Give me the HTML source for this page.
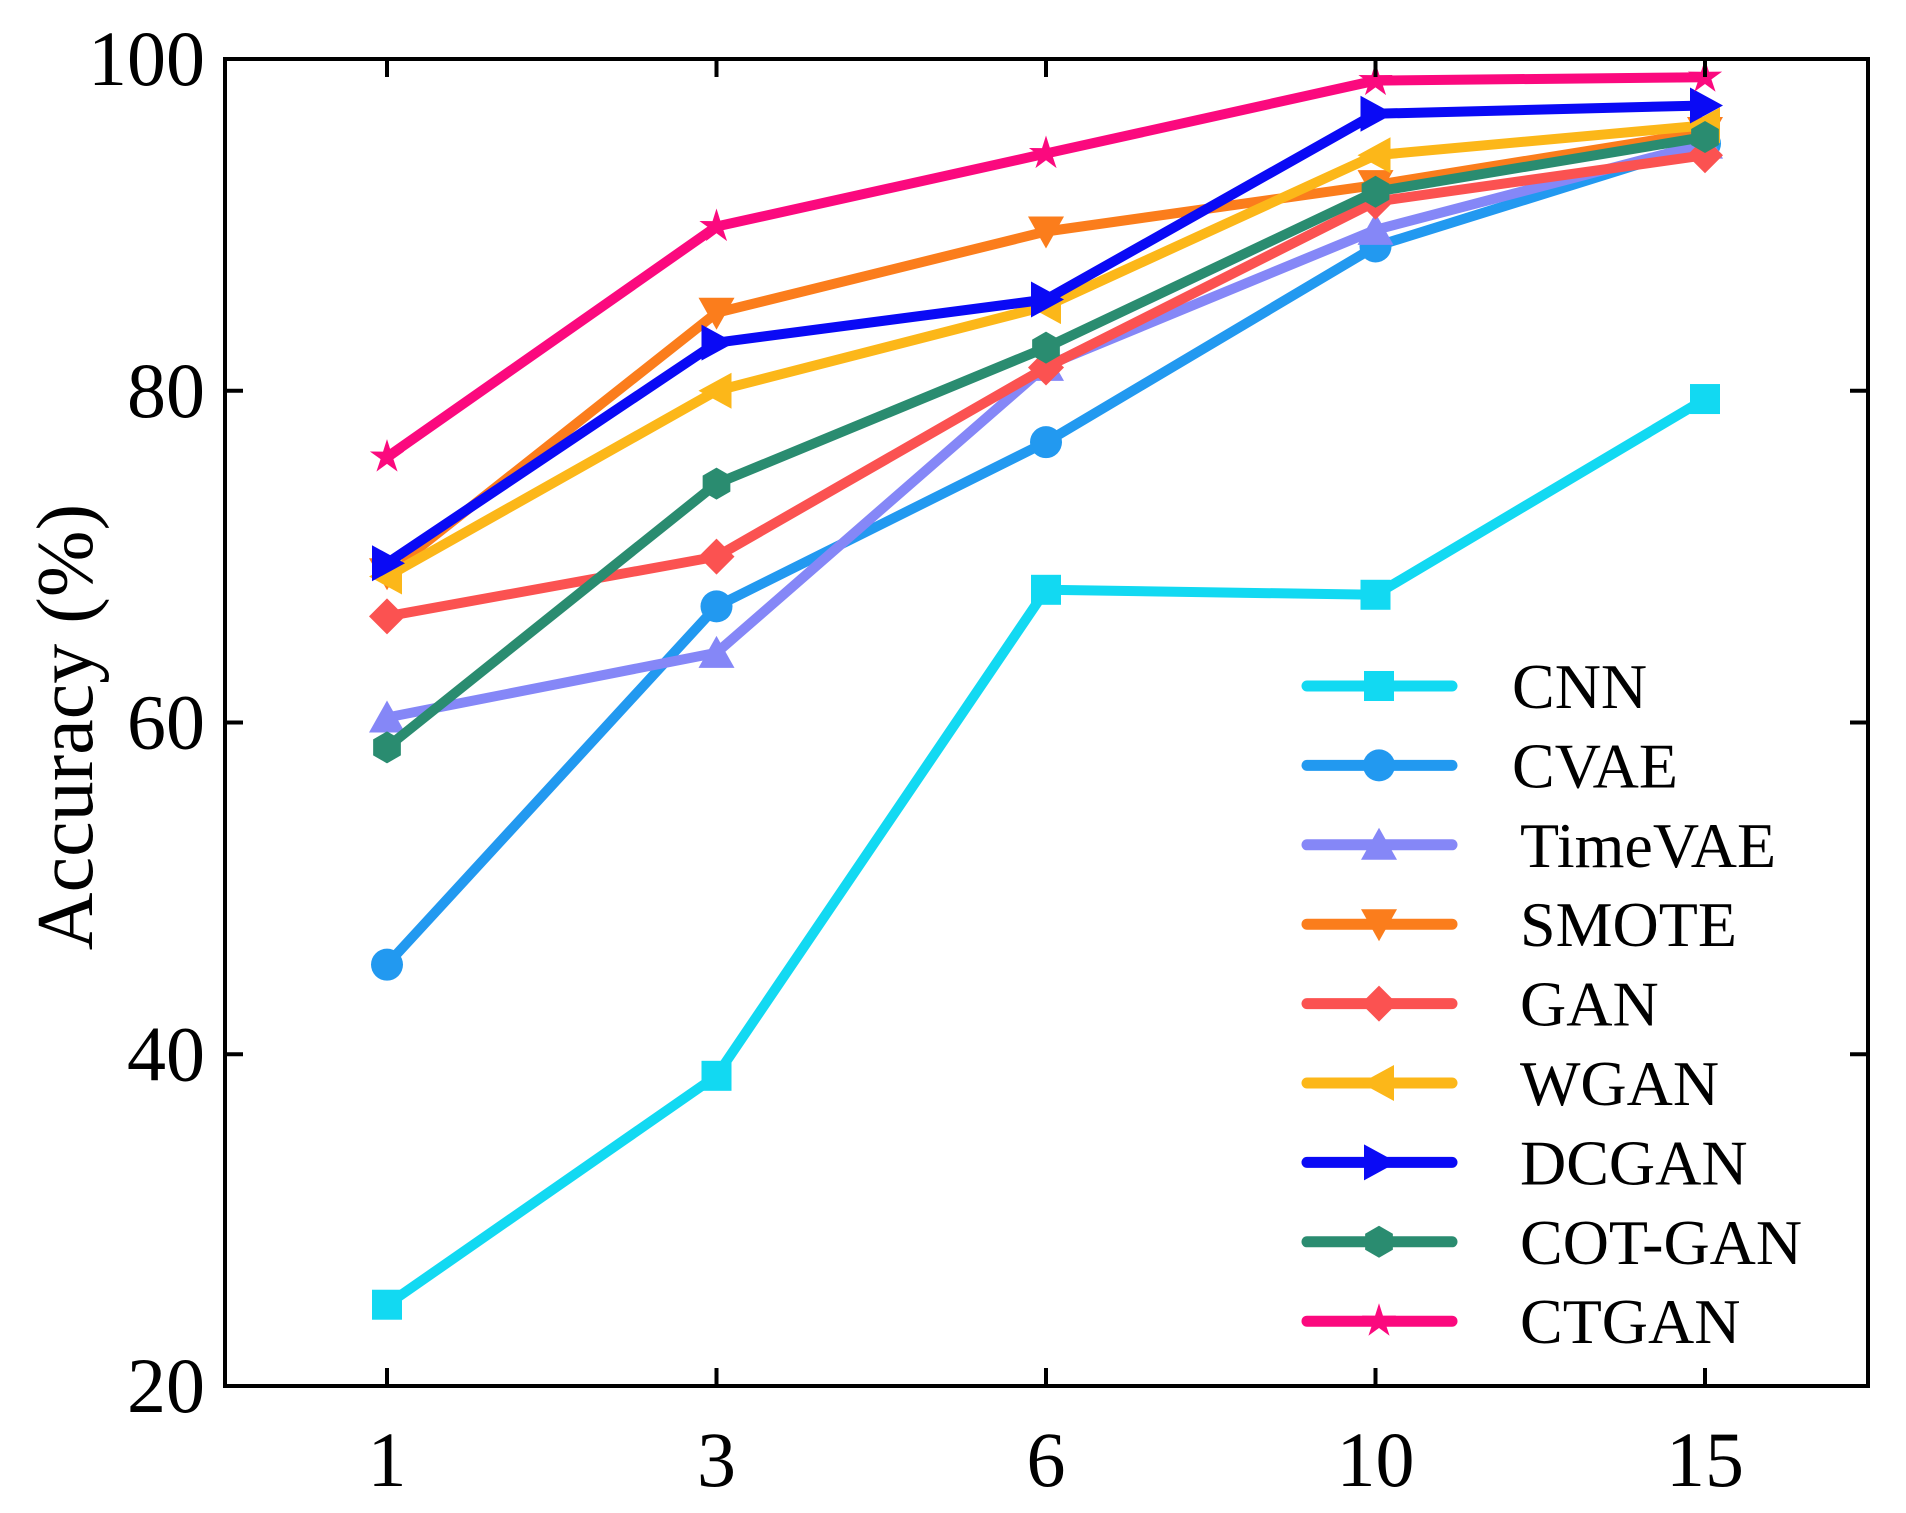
<!DOCTYPE html>
<html><head><meta charset="utf-8"><style>
html,body{margin:0;padding:0;background:#fff;}
svg{display:block;font-family:"Liberation Serif",serif;}
</style></head><body>
<svg id="chart" width="1906" height="1513" viewBox="0 0 1906 1513" xmlns="http://www.w3.org/2000/svg">
<rect x="0" y="0" width="1906" height="1513" fill="#fff"/>
<g id="series"></g>
<rect x="225" y="59" width="1643" height="1327" fill="none" stroke="#000" stroke-width="4"/>
<g id="axes"></g>
<text transform="translate(92,727) rotate(-90)" text-anchor="middle" font-size="80">Accuracy (%)</text>
<g id="legend"></g>
</svg>
<script>
const categories = ["1","3","6","10","15"];
const yTicks = [20,40,60,80,100];
const seriesNames = ["CNN","CVAE","TimeVAE","SMOTE","GAN","WGAN","DCGAN","COT-GAN","CTGAN"];
const cnnValues = [24.9,38.7,68.0,67.7,79.5];
const cvaeValues = [45.4,67.0,76.9,88.7,94.9];
const timevaeValues = [60.3,64.2,81.5,89.7,94.9];
const smoteValues = [69.0,84.7,89.6,92.4,95.6];
const ganValues = [66.4,70.0,81.4,91.4,94.2];
const wganValues = [68.8,80.0,85.1,94.2,96.0];
const dcganValues = [69.6,82.9,85.5,96.7,97.2];
const cotganValues = [58.5,74.4,82.6,92.0,95.3];
const ctganValues = [76.0,89.9,94.3,98.7,98.9];
const colors = ["#12d9f2","#2299f0","#8587f7","#fb7d1c","#fb5251","#fcb719","#0a0af5","#2a8c70","#fb097e"];
const markers = ["square","circle","triangle","tridown","diamond","left","right","hexagon","star"];
const allValues = [cnnValues,cvaeValues,timevaeValues,smoteValues,ganValues,wganValues,dcganValues,cotganValues,ctganValues];

const NS = "http://www.w3.org/2000/svg";
const X0 = 387, DX = 329.5, Ytop = 59, Ybot = 1386;
function xPos(i){ return X0 + i*DX; }
function yPos(v){ return Ybot - (v-20)/80*(Ybot-Ytop); }
function mk(tag, attrs){ const e=document.createElementNS(NS,tag); for(const k in attrs) e.setAttribute(k,attrs[k]); return e; }

function markerEl(type, cx, cy, color){
  const r = 15;
  let e;
  if(type==="square") e = mk("rect",{x:cx-r,y:cy-r,width:2*r,height:2*r,fill:color});
  else if(type==="circle") e = mk("circle",{cx:cx,cy:cy,r:r+1,fill:color});
  else {
    let pts=[];
    if(type==="triangle") pts=[[0,-r-2],[r+3,r],[-r-3,r]];
    else if(type==="tridown") pts=[[0,r+2],[r+3,-r],[-r-3,-r]];
    else if(type==="diamond") pts=[[0,-r-3],[r+3,0],[0,r+3],[-r-3,0]];
    else if(type==="left") pts=[[-r-3,0],[r,-r-3],[r,r+3]];
    else if(type==="right") pts=[[r+3,0],[-r,-r-3],[-r,r+3]];
    else if(type==="hexagon"){ for(let k=0;k<6;k++){const a=Math.PI/3*k+Math.PI/6; pts.push([Math.cos(a)*(r+1),Math.sin(a)*(r+1)]);} }
    else if(type==="star"){ for(let k=0;k<10;k++){const a=-Math.PI/2+Math.PI/5*k; const rr=k%2?r*0.45:r+3; pts.push([Math.cos(a)*rr,Math.sin(a)*rr]);} }
    e = mk("polygon",{points:pts.map(p=>(cx+p[0])+","+(cy+p[1])).join(" "),fill:color});
  }
  return e;
}

const sg = document.getElementById("series");
allValues.forEach((vals, s) => {
  const g = mk("g",{});
  
  
  const pl = mk("polyline",{points: vals.map((v,i)=>xPos(i)+","+yPos(v)).join(" "), fill:"none", stroke:colors[s], "stroke-width":10, "stroke-linejoin":"round", "stroke-linecap":"round"});
  
  
  g.appendChild(pl);
  vals.forEach((v,i) => {
    const m = markerEl(markers[s], xPos(i), yPos(v), colors[s]);
    
    
    g.appendChild(m);
  });
  sg.appendChild(g);
});

const ag = document.getElementById("axes");
categories.forEach((c,i) => {
  const t = mk("line",{x1:xPos(i),x2:xPos(i),y1:Ybot,y2:Ybot-18,stroke:"#000","stroke-width":4});
  
  
  ag.appendChild(t);
  const t2 = mk("line",{x1:xPos(i),x2:xPos(i),y1:Ytop,y2:Ytop+18,stroke:"#000","stroke-width":4});
  
  
  ag.appendChild(t2);
  const l = mk("text",{x:xPos(i),y:1486,"text-anchor":"middle","font-size":78});
  l.textContent = c;
  
  
  ag.appendChild(l);
});
yTicks.forEach(v => {
  const t = mk("line",{x1:225,x2:243,y1:yPos(v),y2:yPos(v),stroke:"#000","stroke-width":4});
  
  
  ag.appendChild(t);
  const t2 = mk("line",{x1:1850,x2:1868,y1:yPos(v),y2:yPos(v),stroke:"#000","stroke-width":4});
  
  
  ag.appendChild(t2);
  const l = mk("text",{x:205,y:yPos(v)+26,"text-anchor":"end","font-size":78});
  l.textContent = v;
  
  
  ag.appendChild(l);
});

const lg = document.getElementById("legend");
seriesNames.forEach((n,s) => {
  const y = 686 + s*79.4;
  const g = mk("g",{});
  
  
  g.appendChild(mk("line",{x1:1307,x2:1452,y1:y,y2:y,stroke:colors[s],"stroke-width":11,"stroke-linecap":"round"}));
  g.appendChild(markerEl(markers[s],1379,y,colors[s]));
  const t = mk("text",{x:(s===0||s===1)?1512:1520,y:y+22,"font-size":64});
  t.textContent = n;
  g.appendChild(t);
  lg.appendChild(g);
});
</script>
</body></html>
